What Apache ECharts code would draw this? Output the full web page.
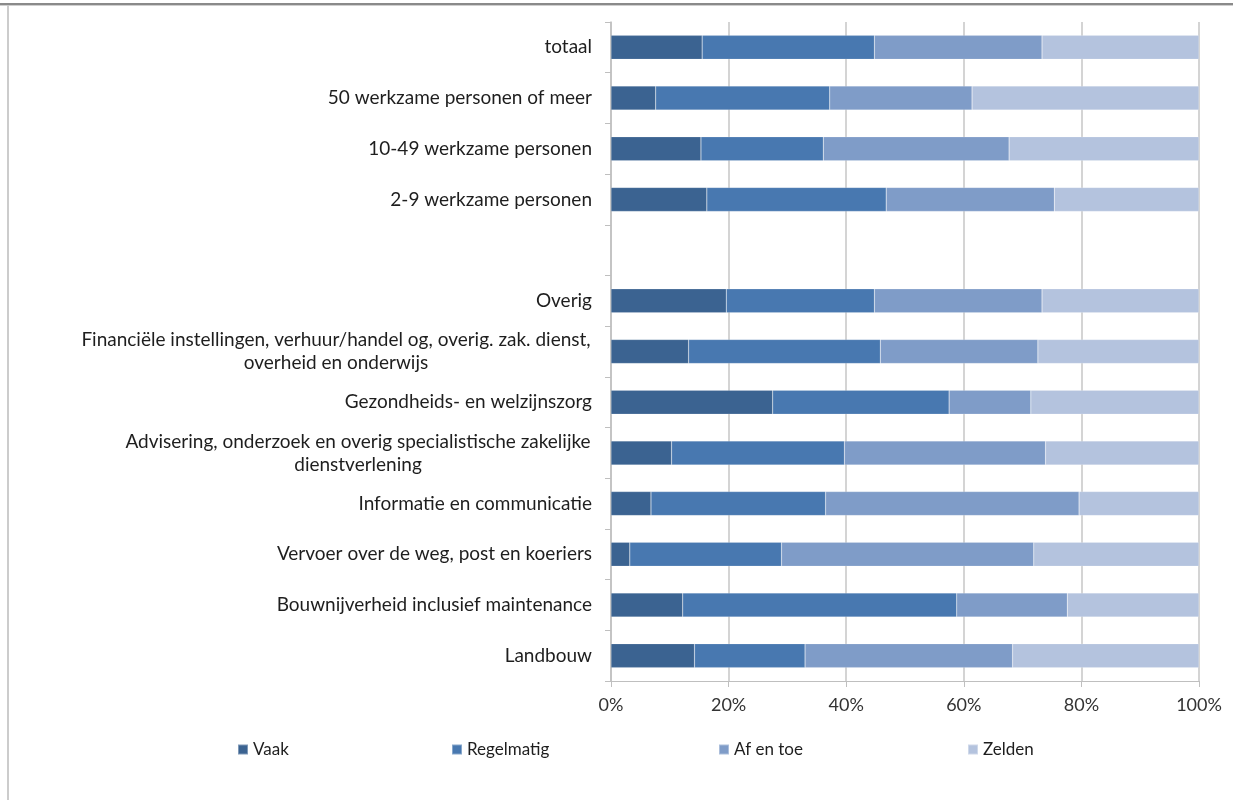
<!DOCTYPE html>
<html>
<head>
<meta charset="utf-8">
<script src="https://cdn.jsdelivr.net/npm/echarts@6/dist/echarts.min.js"></script>
<style>
  html, body { margin: 0; padding: 0; background: #fff; }
  #chart { width: 1233px; height: 800px; }
</style>
</head>
<body>
<div id="chart"></div>
<script>
// categories, bottom to top (as drawn by a category y axis)
var categories = [
  'Landbouw',
  'Bouwnijverheid inclusief maintenance',
  'Vervoer over de weg, post en koeriers',
  'Informatie en communicatie',
  'Advisering, onderzoek en overig specialistische zakelijke\ndienstverlening',
  'Gezondheids- en welzijnszorg',
  'Financiële instellingen, verhuur/handel og, overig. zak. dienst,\noverheid en onderwijs',
  'Overig',
  '',
  '2-9 werkzame personen',
  '10-49 werkzame personen',
  '50 werkzame personen of meer',
  'totaal'
]

var seriesNames = ['Vaak', 'Regelmatig', 'Af en toe', 'Zelden']
var seriesColors = ['#3b6391', '#4878b0', '#7f9cc8', '#b4c3de']

// percentages per category (same order as categories)
var vaak       = [14.2, 12.2, 3.2, 6.8, 10.3, 27.5, 13.2, 19.6, null, 16.3, 15.3, 7.6, 15.5]
var regelmatig = [18.8, 46.6, 25.8, 29.7, 29.4, 30.0, 32.6, 25.2, null, 30.5, 20.8, 29.6, 29.3]
var afEnToe    = [35.3, 18.8, 42.9, 43.1, 34.2, 13.9, 26.8, 28.5, null, 28.6, 31.6, 24.2, 28.5]
var zelden     = [31.7, 22.4, 28.1, 20.4, 26.1, 28.6, 27.4, 26.7, null, 24.6, 32.3, 38.6, 26.7]

var xTicks = [0, 20, 40, 60, 80, 100]

var FONT = 'Lato'
var FS = 19

// measure widest line of multi-line labels so lines can be centred in a block
var ctx = document.createElement('canvas').getContext('2d')
ctx.font = FS + 'px "' + FONT + '"'
function blockWidth (label) {
  var w = 0
  label.split('\n').forEach(function (l) {
    w = Math.max(w, ctx.measureText(l).width)
  })
  return Math.ceil(w) + 2
}
var rich = {}
categories.forEach(function (c, i) {
  if (c.indexOf('\n') >= 0) {
    rich['m' + i] = { width: blockWidth(c), align: 'center', fontSize: FS, fontFamily: FONT, color: '#1e1e1e', lineHeight: 23 }
  }
})

var allData = [vaak, regelmatig, afEnToe, zelden]
var series = seriesNames.map(function (name, k) {
  return {
    name: name,
    type: 'bar',
    stack: 'total',
    barWidth: 24,
    data: allData[k],
    itemStyle: { color: seriesColors[k], borderColor: 'rgba(255,255,255,0.35)', borderWidth: 0.5 },
    emphasis: { disabled: true }
  }
})

var legendLefts = [237, 451, 718, 967]
var legends = seriesNames.map(function (name, k) {
  return {
    data: [name],
    left: legendLefts[k],
    top: 741,
    padding: 0,
    itemWidth: 10,
    itemHeight: 10,
    icon: 'rect',
    textStyle: { fontFamily: FONT, fontSize: 17, color: '#1e1e1e' }
  }
})

var chart = echarts.init(document.getElementById('chart'))
chart.setOption({
  animation: false,
  backgroundColor: '#fff',
  grid: { left: 611, right: 34, top: 22, bottom: 119 },
  legend: legends,
  xAxis: {
    type: 'value',
    min: 0,
    max: 100,
    interval: 20,
    axisLine: { show: true, lineStyle: { color: '#bfbfbf', width: 1 } },
    axisTick: { show: true, length: 6, lineStyle: { color: '#bfbfbf' } },
    splitLine: { show: true, lineStyle: { color: '#c6c6c6', width: 1.5 } },
    axisLabel: {
      margin: 15,
      fontFamily: FONT,
      fontSize: 18,
      color: '#333333',
      formatter: function (v) { return xTicks.indexOf(v) >= 0 ? v + '%' : '' }
    }
  },
  yAxis: {
    type: 'category',
    data: categories,
    axisLine: { show: true, lineStyle: { color: '#bfbfbf', width: 1.5 } },
    axisTick: { show: true, length: 6, lineStyle: { color: '#bfbfbf' } },
    axisLabel: {
      margin: 19,
      interval: 0,
      fontFamily: FONT,
      fontSize: FS,
      color: '#1e1e1e',
      lineHeight: 23,
      rich: rich,
      formatter: function (v, i) {
        if (v.indexOf('\n') < 0) return v
        return v.split('\n').map(function (l) { return '{m' + i + '|' + l + '}' }).join('\n')
      }
    }
  },
  graphic: [
    { type: 'rect', shape: { x: 0, y: 3, width: 1233, height: 2 }, style: { fill: '#8a8a8a' }, silent: true },
    { type: 'rect', shape: { x: 0, y: 5, width: 1233, height: 1 }, style: { fill: '#cfcfcf' }, silent: true },
    { type: 'rect', shape: { x: 7, y: 5, width: 2, height: 795 }, style: { fill: '#cccccc' }, silent: true }
  ],
  series: series
})
</script>
</body>
</html>
